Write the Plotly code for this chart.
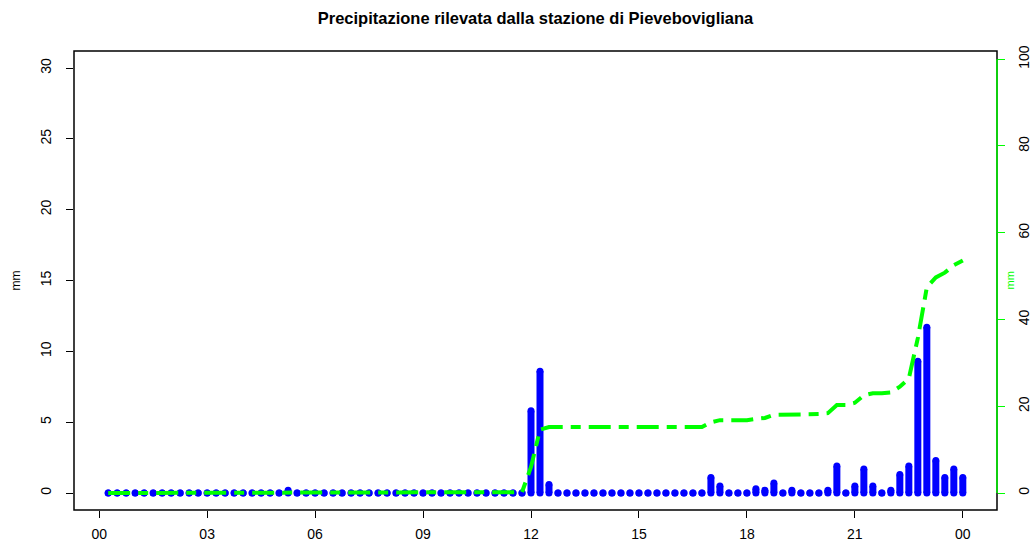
import numpy as np
import plotly.graph_objects as go

# 15-minute rain totals (mm) from 00:15 to 24:00
hours = [0.25 * k for k in range(1, 97)]
rain_mm = [
    0, 0, 0, 0, 0, 0, 0, 0, 0, 0, 0, 0, 0, 0, 0, 0, 0, 0, 0, 0,      # 00:15-05:00
    0.2, 0, 0, 0, 0, 0, 0, 0, 0, 0, 0, 0, 0, 0, 0, 0, 0, 0, 0, 0,    # 05:15-10:00
    0, 0, 0, 0, 0, 0, 0, 5.8, 8.6, 0.6, 0, 0, 0, 0, 0, 0, 0, 0, 0, 0,  # 10:15-15:00
    0, 0, 0, 0, 0, 0, 0, 1.1, 0.5, 0, 0, 0, 0.3, 0.2, 0.7, 0, 0.2, 0, 0, 0,  # 15:15-20:00
    0.2, 1.9, 0, 0.5, 1.7, 0.5, 0, 0.2, 1.3, 1.9, 9.3, 11.7, 2.3, 1.1, 1.7, 1.1,  # 20:15-24:00
]
cumulative_mm = np.cumsum(rain_mm)

x_ticks = [0, 3, 6, 9, 12, 15, 18, 21, 24]
x_labels = ["00", "03", "06", "09", "12", "15", "18", "21", "00"]
left_ticks = [0, 5, 10, 15, 20, 25, 30]
right_ticks = [0, 20, 40, 60, 80, 100]

title_text = "Precipitazione rilevata dalla stazione di Pievebovigliana"
FONT = "Liberation Sans, Arial, Helvetica, sans-serif"
BLUE = "#0000FF"
GREEN = "#00FF00"
BAR_W = 7

# vertical bar segments (0 -> value) with round ends made of circle markers
seg_x, seg_y, cap_x, cap_y = [], [], [], []
for h, v in zip(hours, rain_mm):
    seg_x += [h, h, None]
    seg_y += [0, v, None]
    cap_x += [h, h]
    cap_y += [0, v]

fig = go.Figure()
fig.add_trace(go.Scatter(
    x=seg_x, y=seg_y, mode="lines",
    line=dict(color=BLUE, width=BAR_W), hoverinfo="skip", showlegend=False,
))
fig.add_trace(go.Scatter(
    x=cap_x, y=cap_y, mode="markers",
    marker=dict(color=BLUE, size=BAR_W, line=dict(width=0)),
    hoverinfo="skip", showlegend=False,
))
fig.add_trace(go.Scatter(
    x=hours, y=cumulative_mm, mode="lines", yaxis="y2",
    line=dict(color=GREEN, width=4, dash="22px,8px,10px,8px"),
    hoverinfo="skip", showlegend=False,
))

fig.update_layout(
    template="none",
    width=1031, height=552,
    margin=dict(l=74, r=34, t=51, b=42, autoexpand=False),
    paper_bgcolor="white", plot_bgcolor="white",
    font=dict(family=FONT, color="black", size=14),
    title=dict(
        text="<b>" + title_text + "</b>",
        x=0.5, xref="paper", xanchor="center",
        y=1 - 18 / 552, yref="container", yanchor="middle",
        font=dict(size=16.5, family=FONT, color="black"),
    ),
    xaxis=dict(
        range=[-0.7, 24.95], tickvals=x_ticks, ticktext=x_labels,
        ticks="outside", ticklen=7, tickwidth=1, tickcolor="black",
        showgrid=False, zeroline=False, showline=False, automargin=False,
        ticklabelstandoff=4, tickfont=dict(size=14),
    ),
    yaxis=dict(
        range=[-1.2, 31.2], tickvals=left_ticks,
        ticks="outside", ticklen=7, tickwidth=1, tickcolor="black",
        showgrid=False, zeroline=False, showline=False, automargin=False,
        tickangle=-90, ticklabelstandoff=9, tickfont=dict(size=14),
    ),
    yaxis2=dict(
        overlaying="y", side="right",
        range=[-3.92, 101.9], tickvals=right_ticks,
        ticks="outside", ticklen=7, tickwidth=1, tickcolor=GREEN,
        showgrid=False, zeroline=False, showline=False, automargin=False,
        tickangle=-90, ticklabelstandoff=7, tickfont=dict(size=14, color="black"),
    ),
    shapes=[
        dict(type="rect", xref="paper", yref="paper", x0=0, x1=1, y0=0, y1=1,
             line=dict(color="black", width=1.5), layer="above"),
        dict(type="line", xref="paper", yref="y2", x0=1, x1=1, y0=0, y1=100,
             line=dict(color=GREEN, width=1.5), layer="above"),
    ],
    annotations=[
        dict(text="mm", xref="paper", yref="paper", x=-59 / 923, y=0.5,
             xanchor="center", yanchor="middle", textangle=-90,
             showarrow=False, font=dict(size=12, color="black")),
        dict(text="mm", xref="paper", yref="paper", x=1 + 12 / 923, y=0.5,
             xanchor="center", yanchor="middle", textangle=-90,
             showarrow=False, font=dict(size=11, color=GREEN)),
    ],
)

fig.write_html("out.html")
